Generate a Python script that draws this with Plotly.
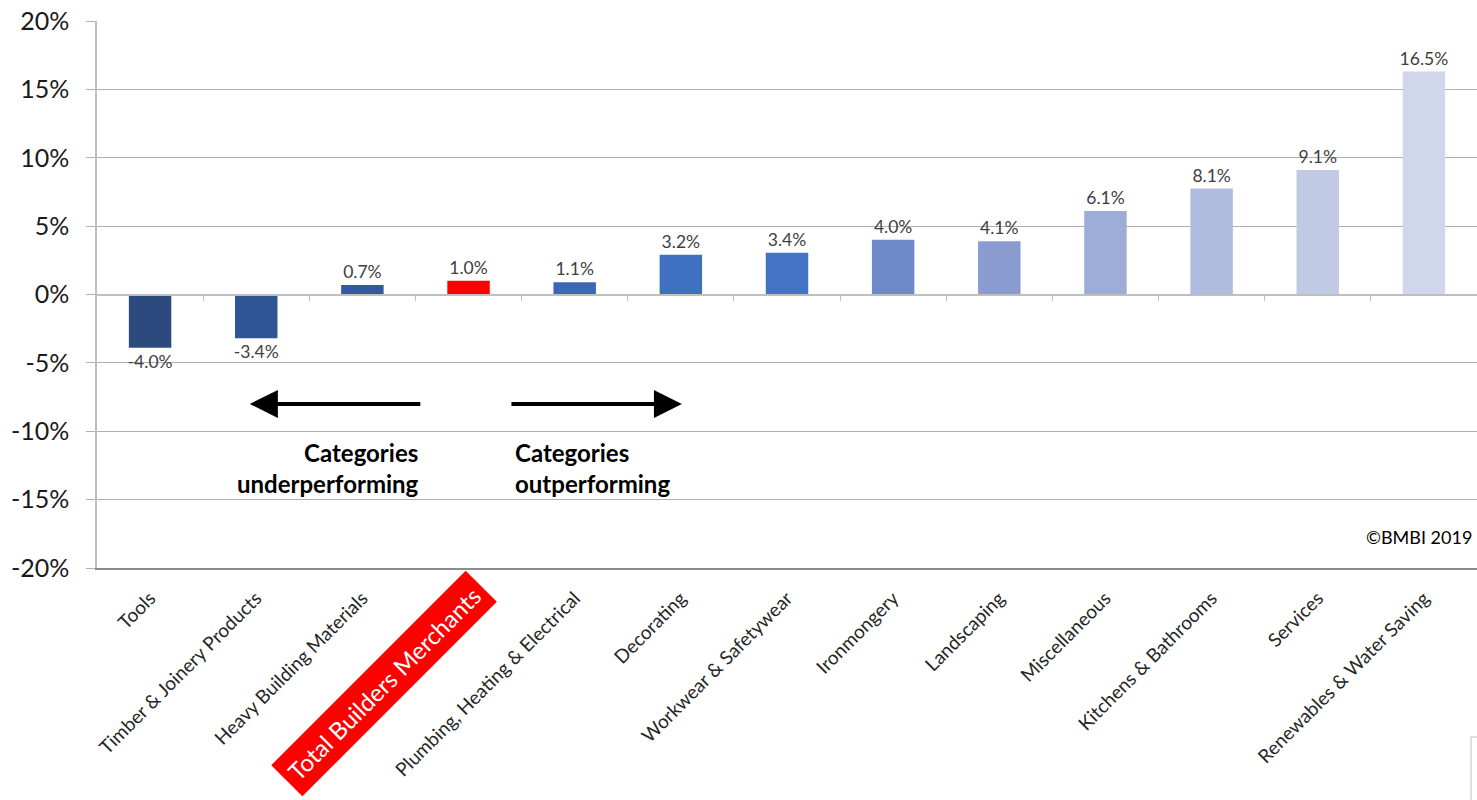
import plotly.graph_objects as go

categories = ["Tools", "Timber & Joinery Products", "Heavy Building Materials",
              "Total Builders Merchants", "Plumbing, Heating & Electrical", "Decorating",
              "Workwear & Safetywear", "Ironmongery", "Landscaping", "Miscellaneous",
              "Kitchens & Bathrooms", "Services", "Renewables & Water Saving"]
bar_values = [-3.9, -3.2, 0.7, 1.0, 0.9, 2.9, 3.05, 4.0, 3.9, 6.1, 7.75, 9.1, 16.3]
label_text = ["-4.0%", "-3.4%", "0.7%", "1.0%", "1.1%", "3.2%", "3.4%", "4.0%",
              "4.1%", "6.1%", "8.1%", "9.1%", "16.5%"]
bar_colors = ["#2C4A7E", "#2F5597", "#3358A0", "#FF0000", "#3C67B5", "#4070C0",
              "#4472C4", "#6F89C8", "#8A9CCF", "#9DADD7", "#AFBCDE", "#C0CAE5", "#D0D6EC"]
y_ticks = [-20, -15, -10, -5, 0, 5, 10, 15, 20]
highlight = "Total Builders Merchants"

FONT = "Lato"
n = len(categories)
hi = categories.index(highlight)
tick_text = ["" if c == highlight else c for c in categories]

fig = go.Figure()
fig.add_trace(go.Bar(
    x=categories, y=bar_values, text=label_text, textposition="outside",
    constraintext="none",
    marker=dict(color=bar_colors, line=dict(width=0)), width=0.4,
    textfont=dict(family=FONT, size=17.5, color="#404040"), cliponaxis=False,
    showlegend=False, hoverinfo="skip"))
fig.add_trace(go.Scatter(x=[], y=[], xaxis="x2", showlegend=False, hoverinfo="skip"))

fig.update_layout(
    width=1477, height=800, margin=dict(l=97, r=0, t=21, b=232),
    paper_bgcolor="white", plot_bgcolor="white", bargap=0.6,
    font=dict(family=FONT, color="#404040"),
    xaxis=dict(type="category", categoryarray=categories, tickvals=categories,
               ticktext=tick_text, tickangle=-45, showgrid=False, showline=True,
               linecolor="#8C8C8C", linewidth=1.5, ticks="", ticklabelstandoff=10,
               tickfont=dict(family=FONT, size=19, color="#262626"),
               range=[-0.5, n - 0.5], zeroline=False),
    xaxis2=dict(overlaying="x", anchor="free", position=0.5, range=[-0.5, n - 0.5],
                tickvals=[i + 0.5 for i in range(n - 1)], ticks="outside", ticklen=6,
                tickcolor="#BFBFBF", showline=True, linecolor="#BFBFBF", linewidth=1.5,
                showticklabels=False, showgrid=False, zeroline=False),
    yaxis=dict(range=[-20, 20], tickvals=y_ticks, ticktext=[f"{v}%" for v in y_ticks],
               showgrid=True, gridcolor="#B0B0B0", gridwidth=1.2, zeroline=False,
               showline=True, linecolor="#BFBFBF", linewidth=1.5, ticks="outside",
               ticklen=9, tickcolor="#B0B0B0", ticklabelstandoff=12,
               tickfont=dict(family=FONT, size=25, color="#1A1A1A")),
)

# arrows
fig.add_annotation(x=0.94, y=-8, ax=2.56, ay=-8, xref="x", yref="y", axref="x", ayref="y",
                   showarrow=True, arrowhead=2, arrowsize=1.4, arrowwidth=4,
                   arrowcolor="black", text="")
fig.add_annotation(x=5.01, y=-8, ax=3.39, ay=-8, xref="x", yref="y", axref="x", ayref="y",
                   showarrow=True, arrowhead=2, arrowsize=1.4, arrowwidth=4,
                   arrowcolor="black", text="")
fig.add_annotation(x=2.55, y=-12.7, xref="x", yref="y", xanchor="right", yanchor="middle",
                   align="right", showarrow=False,
                   text="<b>Categories<br>underperforming</b>",
                   font=dict(family=FONT, size=24, color="black"))
fig.add_annotation(x=3.42, y=-12.7, xref="x", yref="y", xanchor="left", yanchor="middle",
                   align="left", showarrow=False,
                   text="<b>Categories<br>outperforming</b>",
                   font=dict(family=FONT, size=24, color="black"))
fig.add_annotation(x=1, y=-17.7, xref="paper", yref="y", xanchor="right", yanchor="middle",
                   xshift=-3, showarrow=False, text="©BMBI 2019",
                   font=dict(family=FONT, size=18, color="black"))
# highlighted category label
fig.add_annotation(x=hi, y=0, xref="x", yref="paper", xanchor="right", yanchor="top",
                   xshift=29, yshift=-2, textangle=-45, showarrow=False,
                   text=highlight, bgcolor="#FF0000", borderpad=7,
                   font=dict(family=FONT, size=24, color="white"))
# small frame fragment at bottom right
fig.add_shape(type="rect", xref="paper", yref="paper", x0=0.9957, x1=1.01,
              y0=-0.309, y1=-0.45, line=dict(color="#BFBFBF", width=1))

fig.write_html("out.html")
